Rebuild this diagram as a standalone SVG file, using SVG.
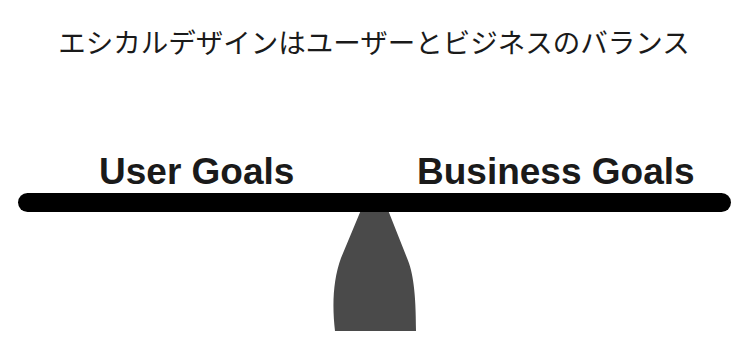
<svg xmlns="http://www.w3.org/2000/svg" width="750" height="345" viewBox="0 0 750 345">
  <style>
    .title { font-family: "Noto Sans CJK JP", "Noto Sans", sans-serif; font-size: 27.5px; fill: #1a1a1a; }
    .goal { font-family: "Liberation Sans", Arial, sans-serif; font-size: 37px; font-weight: bold; fill: #1a1a1a; }
  </style>
  <rect width="750" height="345" fill="#ffffff"/>

  <g id="title">
    <text class="title" x="374" y="53" text-anchor="middle">エシカルデザインはユーザーとビジネスのバランス</text>
  </g>

  <g id="user-goals">
    <text class="goal" x="99" y="184">User Goals</text>
  </g>

  <g id="business-goals">
    <text class="goal" x="417" y="184">Business Goals</text>
  </g>

  <!-- fulcrum under the beam -->
  <g id="fulcrum">
    <path d="M361,210 L388,210 L407,258 C413,272 416,292 416,331 L335,331 C332,305 333,280 341,258 Z" fill="#4a4a4a"/>
  </g>

  <!-- balance beam -->
  <g id="beam">
    <rect x="18" y="193" width="713" height="19" rx="9.5" fill="#000000"/>
  </g>
</svg>
